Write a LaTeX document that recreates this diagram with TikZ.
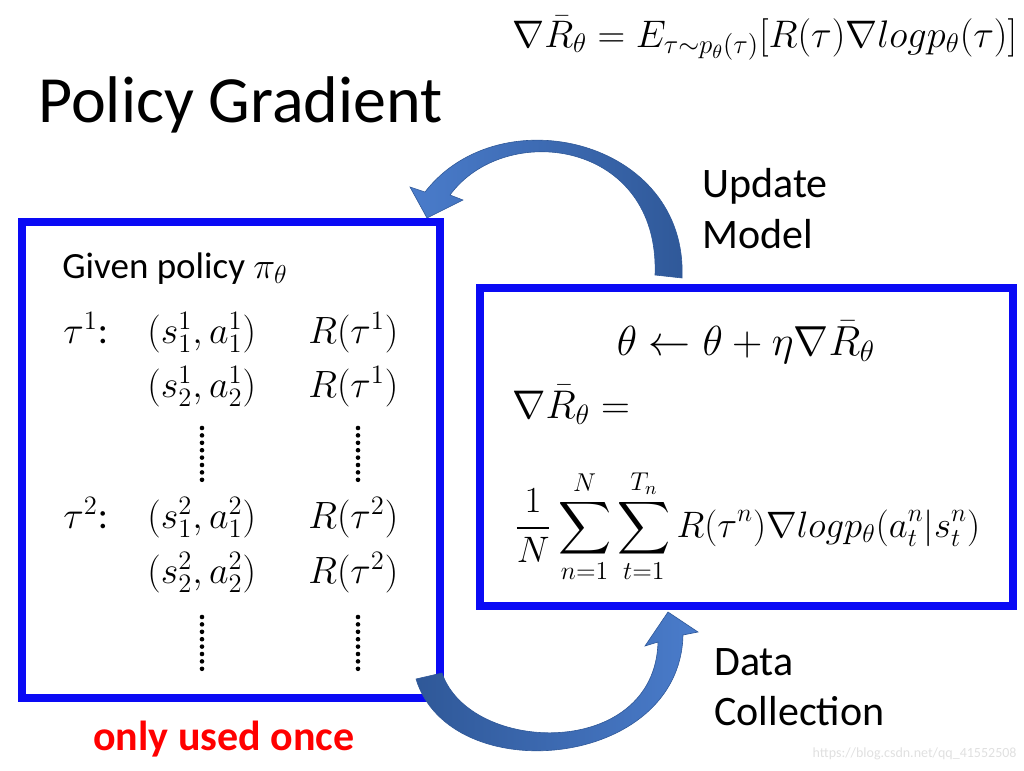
\documentclass[tikz,border=0pt]{standalone}
\usepackage{fix-cm}
\usepackage{amsmath,amssymb}
\usepackage{fontspec}
\setmainfont{Carlito}
\usepackage{tikz}
\usepackage{xcolor}
\definecolor{boxblue}{HTML}{0A0AF5}
\definecolor{arrowlight}{HTML}{4A7CCB}
\definecolor{arrowdark}{HTML}{2F5898}
\definecolor{oncered}{HTML}{FF0000}

\begin{document}
\begin{tikzpicture}[
    x=0.5pt, y=-0.5pt,
    blue box/.style={rectangle, draw=boxblue, line width=4pt, inner sep=0pt},
    title text/.style={anchor=base west, inner sep=0pt, font=\fontsize{33}{40}\selectfont},
    label text/.style={anchor=base west, inner sep=0pt, font=\fontsize{21}{25}\selectfont},
    policy text/.style={anchor=base west, inner sep=0pt, font=\fontsize{19}{23}\selectfont},
    big math/.style={anchor=base west, inner sep=0pt, font=\fontsize{20}{24}\selectfont},
    loop arrow/.style={draw=arrowdark, line width=0.3pt}
  ]
  \useasboundingbox (0,0) rectangle (1024,771);

  \node[title text] (title) at (38,122) {Policy Gradient};
  \node[big math, font=\fontsize{19.2}{23}\selectfont] (objective) at (512,47)
    {$\nabla\bar{R}_\theta = E_{\tau\sim p_\theta(\tau)}[R(\tau)\nabla logp_\theta(\tau)]$};

  \node[blue box, minimum width=209pt, minimum height=238pt] (policy) at (231,460) {};
  \node[blue box, minimum width=266.5pt, minimum height=159pt] (model) at (746.5,447) {};

  \node[policy text, font=\fontsize{18.5}{22}\selectfont] (given) at (62,278) {Given policy $\pi_\theta$};
  \node[policy text] (tau1) at (63,343) {$\tau^1$:};
  \node[policy text] (pair11) at (147,343) {$(s_1^1,a_1^1)$};
  \node[policy text] (reward11) at (308,343) {$R(\tau^1)$};
  \node[policy text] (pair12) at (147,397) {$(s_2^1,a_2^1)$};
  \node[policy text] (reward12) at (308,397) {$R(\tau^1)$};
  \node[policy text] (tau2) at (63,528) {$\tau^2$:};
  \node[policy text] (pair21) at (147,528) {$(s_1^2,a_1^2)$};
  \node[policy text] (reward21) at (308,528) {$R(\tau^2)$};
  \node[policy text] (pair22) at (147,583) {$(s_2^2,a_2^2)$};
  \node[policy text] (reward22) at (308,583) {$R(\tau^2)$};
  \foreach \cx/\cy in {202/428, 358/428, 202/617, 358/617}
    \foreach \k in {0,...,7}
      \fill (\cx,\cy+7.4*\k) circle (1.15pt);

  \node[big math, anchor=base, font=\fontsize{21}{25}\selectfont] (update rule) at (746,355)
    {$\theta \leftarrow \theta + \eta\nabla\bar{R}_\theta$};
  \node[big math] (grad) at (512,418) {$\nabla\bar{R}_\theta =$};
  \node[big math, font=\fontsize{18.4}{22}\selectfont] (estimate) at (514,537)
    {$\displaystyle \frac{1}{N}\sum_{n=1}^{N}\sum_{t=1}^{T_n} R(\tau^n)\nabla logp_\theta(a_t^n|s_t^n)$};

  \shadedraw[loop arrow, left color=arrowlight, right color=arrowdark]
    (682,278) .. controls (688,140) and (500,95) .. (425,192)
    -- (410,187) -- (427,218) -- (463,200) -- (450,195)
    .. controls (505,120) and (660,140) .. (655,275) -- cycle;
  \shadedraw[loop arrow, left color=arrowdark, right color=arrowlight]
    (416,679) .. controls (450,790) and (680,770) .. (683,635)
    -- (698,632) -- (668,612) -- (645,646) -- (658,642)
    .. controls (655,760) and (470,755) .. (442,673) -- cycle;

  \node[label text] (update) at (702,197) {Update};
  \node[label text] (modeltxt) at (702,248) {Model};
  \node[label text] (data) at (714,675) {Data};
  \node[label text] (collection) at (714,725) {Collection};
  \node[label text, font=\fontsize{21}{25}\selectfont\bfseries, text=oncered] (once) at (93,750) {only used once};
  \node[anchor=base east, inner sep=0pt, font=\fontsize{7}{8}\selectfont, text=black!12] (mark) at (1017,757)
    {https://blog.csdn.net/qq\_41552508};
\end{tikzpicture}
\end{document}
